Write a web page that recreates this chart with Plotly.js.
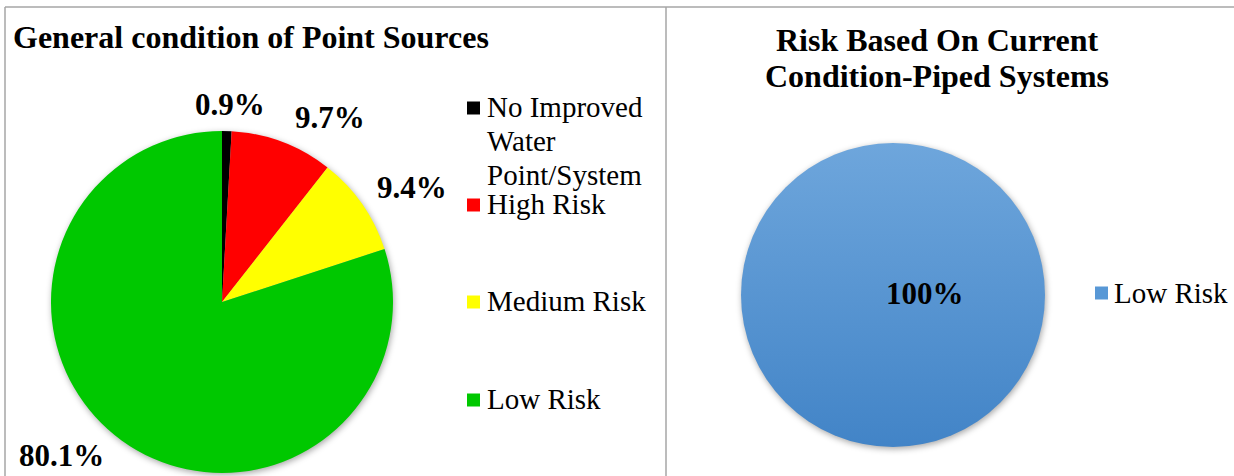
<!DOCTYPE html>
<html>
<head>
<meta charset="utf-8">
<script src="https://cdn.plot.ly/plotly-3.0.1.min.js"></script>
<style>
  html, body { margin: 0; padding: 0; background: #fff; }
  #chart { width: 1234px; height: 476px; }
</style>
</head>
<body>
<div id="chart"></div>
<script>
// ---- Data ----
const pointLabels = ["No Improved Water Point/System", "High Risk", "Medium Risk", "Low Risk"];
const pointLegendLines = [["No Improved", "Water", "Point/System"], ["High Risk"], ["Medium Risk"], ["Low Risk"]];
const pointValues = [0.9, 9.7, 9.4, 80.1];
const pointColors = ["#000000", "#ff0000", "#ffff00", "#00c800"];

const pipedLabels = ["Low Risk"];
const pipedValues = [100];
const pipedColors = ["#5898d6"];

const leftTitle = "General condition of Point Sources";
const rightTitle = ["Risk Based On Current", "Condition-Piped Systems"];

// ---- Layout helpers ----
const W = 1234, H = 476;
const px = x => x / W;
const py = y => 1 - y / H;
const serif = "Liberation Serif";

// pies
const traces = [
  {
    type: "pie",
    labels: pointLabels,
    values: pointValues,
    marker: { colors: pointColors, line: { width: 0 } },
    sort: false,
    direction: "clockwise",
    rotation: 0,
    textinfo: "none",
    hoverinfo: "label+percent",
    showlegend: false,
    domain: { x: [px(222 - 171), px(222 + 171)], y: [py(302 + 171), py(302 - 171)] }
  },
  {
    type: "pie",
    labels: pipedLabels,
    values: pipedValues,
    marker: { colors: pipedColors, line: { width: 0 } },
    sort: false,
    direction: "clockwise",
    rotation: 0,
    textinfo: "none",
    hoverinfo: "label+percent",
    showlegend: false,
    domain: { x: [px(893 - 152), px(893 + 152)], y: [py(295 + 152), py(295 - 152)] }
  }
];

const annotations = [];
const shapes = [];

// percent labels (positions are layout)
const pointLabelPos = [[230, 104], [330, 117], [412, 188], [61, 455]];
pointValues.forEach((v, i) => {
  annotations.push({
    xref: "paper", yref: "paper",
    x: px(pointLabelPos[i][0]), y: py(pointLabelPos[i][1]),
    xanchor: "center", yanchor: "middle", borderpad: 0,
    text: "<b>" + v.toFixed(1) + "%</b>", showarrow: false,
    font: { family: serif, size: 31, color: "#000" }
  });
});
annotations.push({
  xref: "paper", yref: "paper", x: px(925), y: py(293),
  xanchor: "center", yanchor: "middle",
  text: "<b>" + pipedValues[0] + "%</b>", showarrow: false,
  font: { family: serif, size: 31, color: "#000" }
});

// right title
rightTitle.forEach((t, i) => {
  annotations.push({
    xref: "paper", yref: "paper", x: px(937), y: py(40 + i * 36),
    xanchor: "center", yanchor: "middle",
    text: "<b>" + t + "</b>", showarrow: false,
    font: { family: serif, size: 32, color: "#000" }
  });
});

// left legend
const legendEntryY = [108, 205, 302, 400];
pointLegendLines.forEach((lines, i) => {
  const cy = legendEntryY[i];
  shapes.push({
    type: "rect", xref: "paper", yref: "paper",
    x0: px(467), x1: px(480), y0: py(cy + 6.5), y1: py(cy - 6.5),
    fillcolor: pointColors[i], line: { width: 0 }
  });
  lines.forEach((ln, j) => {
    annotations.push({
      xref: "paper", yref: "paper", x: px(485), y: py(cy - 1 + j * 34),
      xanchor: "left", yanchor: "middle",
      text: ln, showarrow: false,
      font: { family: serif, size: 29, color: "#000" }
    });
  });
});

// right legend
shapes.push({
  type: "rect", xref: "paper", yref: "paper",
  x0: px(1095), x1: px(1108), y0: py(299.5), y1: py(286.5),
  fillcolor: pipedColors[0], line: { width: 0 }
});
annotations.push({
  xref: "paper", yref: "paper", x: px(1112), y: py(293),
  xanchor: "left", yanchor: "middle",
  text: pipedLabels[0], showarrow: false,
  font: { family: serif, size: 29, color: "#000" }
});

// frame lines
const frame = { color: "#a6a6a6", width: 1.5 };
shapes.push({ type: "line", xref: "paper", yref: "paper", x0: px(5), x1: 1, y0: py(7), y1: py(7), line: frame });
shapes.push({ type: "line", xref: "paper", yref: "paper", x0: px(5), x1: px(5), y0: py(7), y1: 0, line: frame });
shapes.push({ type: "line", xref: "paper", yref: "paper", x0: px(666), x1: px(666), y0: py(7), y1: 0, line: frame });

const layout = {
  width: W, height: H,
  margin: { l: 0, r: 0, t: 0, b: 0 },
  paper_bgcolor: "#ffffff",
  font: { family: serif },
  showlegend: false,
  title: {
    text: "<b>" + leftTitle + "</b>",
    x: px(13), xanchor: "left", xref: "paper",
    y: py(37), yanchor: "middle", yref: "paper",
    font: { family: serif, size: 32, color: "#000" }
  },
  annotations: annotations,
  shapes: shapes
};

Plotly.newPlot("chart", traces, layout, { displayModeBar: false, staticPlot: true }).then(gd => {
  // cosmetic: soft shadow on pies and vertical gradient on the blue pie
  const svg = gd.querySelector(".main-svg");
  const ns = "http://www.w3.org/2000/svg";
  let defs = svg.querySelector("defs");
  if (!defs) { defs = document.createElementNS(ns, "defs"); svg.insertBefore(defs, svg.firstChild); }
  const grad = document.createElementNS(ns, "linearGradient");
  grad.setAttribute("id", "blueGrad");
  grad.setAttribute("x1", "0"); grad.setAttribute("y1", "0");
  grad.setAttribute("x2", "0"); grad.setAttribute("y2", "1");
  [["0", "#6ea6dc"], ["1", "#4284c7"]].forEach(([o, c]) => {
    const s = document.createElementNS(ns, "stop");
    s.setAttribute("offset", o); s.setAttribute("stop-color", c);
    grad.appendChild(s);
  });
  defs.appendChild(grad);
  const pieTraces = gd.querySelectorAll(".pielayer .trace");
  pieTraces.forEach(t => { t.style.filter = "drop-shadow(1px 2px 3px rgba(0,0,0,0.35))"; });
  if (pieTraces[1]) {
    pieTraces[1].querySelectorAll("path.surface").forEach(p => { p.style.fill = "url(#blueGrad)"; });
  }
});
</script>
</body>
</html>
